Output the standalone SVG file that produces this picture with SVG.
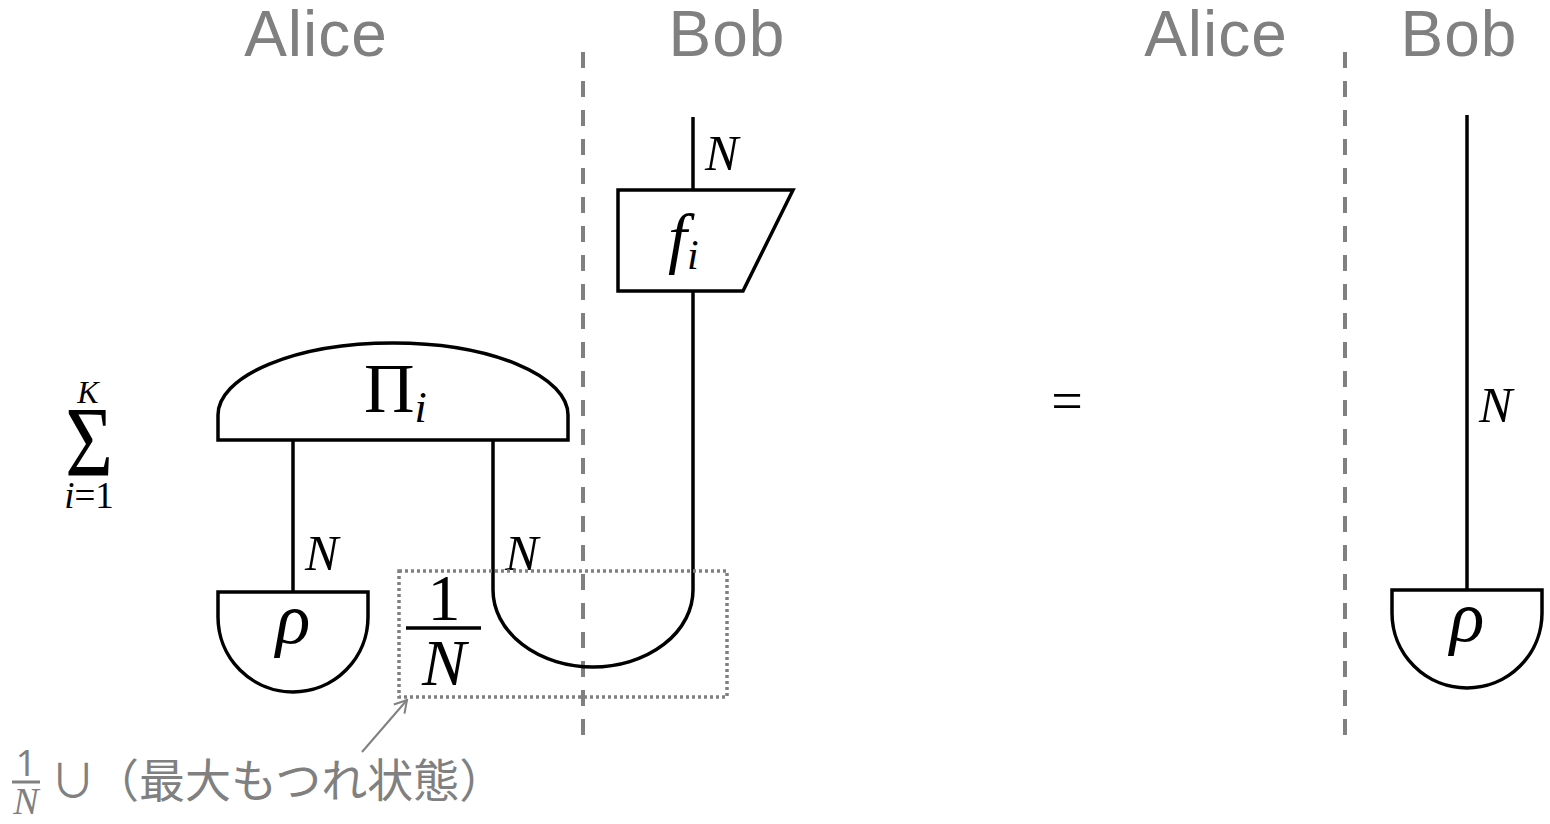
<svg xmlns="http://www.w3.org/2000/svg" width="1550" height="824" viewBox="0 0 1550 824">
<style>
.lbl{font-family:"Liberation Sans","Noto Sans",sans-serif;font-size:64px;fill:#808080;letter-spacing:1px}
.math{font-family:"Liberation Serif","DejaVu Serif",serif;fill:#000}
.it{font-style:italic}
.shape{fill:#fff;stroke:#000;stroke-width:3.5}
.wire{fill:none;stroke:#000;stroke-width:3.5}
.div{stroke:#808080;stroke-width:4;stroke-dasharray:16 13;fill:none}
.note{font-family:"Noto Sans CJK JP","Noto Sans",sans-serif;font-size:46px;fill:#808080}
</style>
<defs>
<marker id="open" markerWidth="16" markerHeight="16" refX="14" refY="8" orient="auto" markerUnits="userSpaceOnUse">
<path d="M2,1 L14,8 L2,15" fill="none" stroke="#808080" stroke-width="2"/>
</marker>
</defs>
<rect width="1550" height="824" fill="#fff"/>

<g id="labels">
<text class="lbl" x="316" y="56" text-anchor="middle">Alice</text>
<text class="lbl" x="727" y="56" text-anchor="middle">Bob</text>
<text class="lbl" x="1216" y="56" text-anchor="middle">Alice</text>
<text class="lbl" x="1459" y="56" text-anchor="middle">Bob</text>
</g>

<g id="dividers">
<line class="div" x1="583" y1="52" x2="583" y2="742"/>
<line class="div" x1="1345" y1="52" x2="1345" y2="742"/>
</g>

<g id="sum">
<text class="math it" x="88" y="403" font-size="32" text-anchor="middle">K</text>
<text class="math" x="89" y="475" font-size="100" text-anchor="middle" transform="translate(89 0) scale(0.82 1) translate(-89 0)">Σ</text>
<text class="math" x="89" y="508" font-size="37" text-anchor="middle"><tspan class="it">i</tspan>=1</text>
</g>

<g id="connectors">
<line class="wire" x1="293" y1="440" x2="293" y2="592"/>
<path class="wire" d="M493,440 L493,590 A100,77 0 0 0 693,590 L693,291"/>
<line class="wire" x1="693" y1="117" x2="693" y2="190"/>
<line class="wire" x1="1467" y1="115" x2="1467" y2="590"/>
</g>

<g id="wire-labels">
<text class="math it" x="705" y="170" font-size="50">N</text>
<text class="math it" x="305" y="570" font-size="50">N</text>
<text class="math it" x="505" y="570" font-size="50">N</text>
<text class="math it" x="1479" y="422" font-size="50">N</text>
</g>

<g id="Pi">
<path class="shape" d="M218,440 L218,415 A175,72 0 0 1 568,415 L568,440 Z"/>
<text class="math" x="364" y="412" font-size="70">Π<tspan class="it" font-size="44" dy="10">i</tspan></text>
</g>

<g id="rho-left">
<path class="shape" d="M218,592 L368,592 L368,617 A75,75 0 0 1 218,617 Z"/>
<text class="math it" x="293" y="643" font-size="72" text-anchor="middle">ρ</text>
</g>

<g id="f">
<path class="shape" d="M618,190 L793,190 L743,291 L618,291 Z"/>
<text class="math it" x="668" y="261" font-size="68">f<tspan font-size="42" dy="8">i</tspan></text>
</g>

<g id="rho-right">
<path class="shape" d="M1392,590 L1542,590 L1542,613 A75,75 0 0 1 1392,613 Z"/>
<text class="math it" x="1467" y="641" font-size="72" text-anchor="middle">ρ</text>
</g>

<g id="equals">
<text class="math" x="1067" y="420" font-size="56" text-anchor="middle">=</text>
</g>

<g id="maxent">
<rect x="399" y="571" width="328" height="126" fill="none" stroke="#808080" stroke-width="3.5" stroke-dasharray="3 3"/>
<text class="math" x="444" y="620" font-size="66" text-anchor="middle">1</text>
<line x1="406" y1="628" x2="481" y2="628" stroke="#000" stroke-width="3.5"/>
<text class="math it" x="444" y="685" font-size="66" text-anchor="middle">N</text>
</g>

<g id="annotation">
<line x1="362" y1="752" x2="407" y2="700" stroke="#808080" stroke-width="2" marker-end="url(#open)"/>
<text x="26" y="776" font-family="Noto Sans, sans-serif" font-size="36" fill="#808080" text-anchor="middle">1</text>
<line x1="12" y1="782" x2="40" y2="782" stroke="#808080" stroke-width="3"/>
<text class="it" x="26" y="814" font-family="Liberation Serif, serif" font-size="38" fill="#808080" text-anchor="middle">N</text>
<text class="note" x="50" y="797">∪</text>
<text class="note" x="93" y="797">（最大もつれ状態）</text>
</g>
</svg>
